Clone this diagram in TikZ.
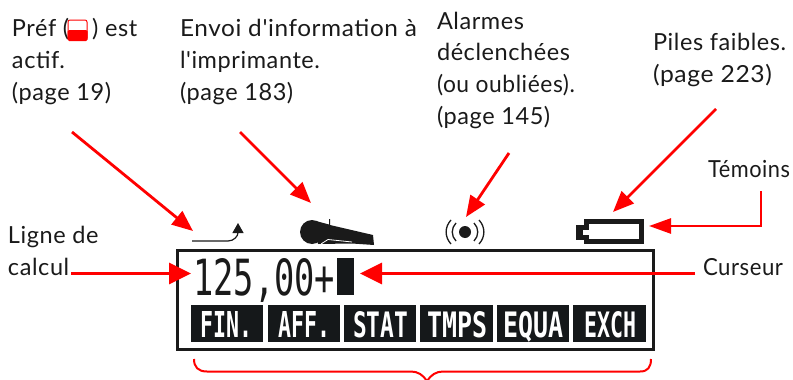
\documentclass[tikz,border=0pt]{standalone}
\usepackage{fontspec}
\usepackage{graphicx}
\newfontfamily\labelfont{Lato}[LetterSpace=2.5]
\newfontfamily\lcdfont{DejaVu Sans Mono}
\usetikzlibrary{arrows.meta}
\definecolor{ink}{HTML}{1A1A1A}
\definecolor{lcd}{HTML}{15181A}
\definecolor{rd}{HTML}{FF0000}
\tikzset{
  lbl/.style={anchor=base west,inner sep=0pt,outer sep=0pt,align=left,text=ink,font=\labelfont\fontsize{23.5}{31.6}\selectfont},
  callout/.style={draw=rd,line width=2.8pt,-{Triangle[length=21pt,width=17pt]}},
  calloutflat/.style={draw=rd,line width=3pt,-{Triangle[length=22pt,width=21pt]}},
  calloutsmall/.style={draw=rd,line width=2.6pt,-{Triangle[length=22pt,width=15pt]}},
  softkey/.style={fill=lcd,draw=none,inner sep=0pt,outer sep=0pt,anchor=north west},
  keytext/.style={text=white,inner sep=0pt,anchor=base west,font=\lcdfont\bfseries},
  lcdtext/.style={text=ink,inner sep=0pt,anchor=base west,font=\lcdfont},
}
\newcommand{\softkeybox}[7]{%
  \node[softkey,minimum width=#3pt,minimum height=37pt] (#1) at (#2,305) {};
  \node[keytext] (#1t) at (#4,337) {\resizebox{#5pt}{#6pt}{#7}};
}
\begin{document}
\begin{tikzpicture}[x=1pt,y=-1pt]
\useasboundingbox (0,0) rectangle (793,380);
% labels
\node[lbl] (pref) at (12,100) {Préf (\hspace{23pt}) est\\actif.\\(page 19)};
\node[lbl] (envoi) at (180,100) {\resizebox{237pt}{\height}{Envoi d'information à}\\l'imprimante.\\(page 183)};
\node[lbl] (alarm) at (437,124) {Alarmes\\déclenchées\\\resizebox{138pt}{\height}{(ou oubliées).}\\(page 145)};
\node[lbl] (piles) at (653,82) {Piles faibles.\\\resizebox{119pt}{\height}{(page 223)}};
\node[lbl] (temoins) at (708,177) {\resizebox{82pt}{\height}{Témoins}};
\node[lbl] (ligne) at (8,275) {Ligne de\\calcul};
\node[lbl] (curseur) at (703,275) {\resizebox{80pt}{\height}{Curseur}};
% pref icon
\draw[rd,line width=1pt,rounded corners=2pt,fill=white] (68,20) rectangle (87,40);
\fill[rd,rounded corners=1.5pt] (67.5,30) rectangle (87.5,41);
% display
\node[draw=ink,line width=2.2pt,fill=white,inner sep=0pt,outer sep=0pt,minimum width=476pt,minimum height=99pt,anchor=north west] (display) at (177.5,250.5) {};
\node[lcdtext] (entry) at (193,295) {\resizebox{142pt}{37pt}{125,00+}};
\node[fill=lcd,inner sep=0pt,outer sep=0pt,minimum width=17pt,minimum height=37pt,anchor=north west] (cursor) at (337,258) {};
\softkeybox{fin}{191}{72}{200}{52}{26}{FIN.}
\softkeybox{aff}{268}{72}{278}{52}{26}{AFF.}
\softkeybox{stat}{344}{72}{353}{55}{26}{STAT}
\softkeybox{tmps}{420}{73}{427}{60}{26}{TMPS}
\softkeybox{equa}{497}{72}{503}{60}{26}{EQUA}
\softkeybox{exch}{573}{73}{584}{52}{26}{EXCH}
% annunciators
\coordinate (shiftstart) at (192,241);
\draw[ink,line width=1.2pt,-{Triangle[length=10pt,width=11pt]}] (shiftstart) -- (228,241) .. controls (234,241) and (238,236) .. (238,223);
\fill[ink] (312,232) circle (12);
\fill[ink] (316,221) -- (329,224.5) -- (329,219) -- (330,219) -- (330,225) -- (373,235) -- (374,245) -- (352,243.5) -- (318,244) -- cycle;
\draw[white,line width=.8pt] (321,244) -- (328,239.5) -- (352,242);
\fill[ink] (465,232) circle (6);
\draw[ink,line width=1.3pt] (456,223) .. controls (451,228) and (451,236) .. (456,241);
\draw[ink,line width=1.3pt] (451,220) .. controls (444.5,227) and (444.5,237) .. (451,244);
\draw[ink,line width=1.3pt] (474,223) .. controls (479,228) and (479,236) .. (474,241);
\draw[ink,line width=1.3pt] (479,220) .. controls (485.5,227) and (485.5,237) .. (479,244);
\fill[ink] (576,225) rectangle (585,239.5);
\node[draw=ink,line width=5pt,fill=white,inner sep=0pt,outer sep=0pt,minimum width=55pt,minimum height=20pt,anchor=north west] (battery) at (586.5,221.5) {};
\fill[white] (582.5,230) rectangle (590,235);
% callouts
\coordinate (a1s) at (72,132); \coordinate (a1e) at (193,231);
\coordinate (a2s) at (240,132); \coordinate (a2e) at (311,203);
\coordinate (a3s) at (509,153); \coordinate (a3e) at (466,217);
\coordinate (a4s) at (716,109); \coordinate (a4e) at (613,212);
\coordinate (a5s) at (761,191); \coordinate (a5c) at (761,226); \coordinate (a5e) at (649,226);
\coordinate (a6s) at (71,273.5); \coordinate (a6e) at (191,273.5);
\coordinate (a7s) at (695,273.5); \coordinate (a7e) at (360,273.5);
\draw[callout] (a1s) -- (a1e);
\draw[callout] (a2s) -- (a2e);
\draw[callout] (a3s) -- (a3e);
\draw[callout] (a4s) -- (a4e);
\draw[calloutsmall] (a5s) -- (a5c) -- (a5e);
\draw[calloutflat] (a6s) -- (a6e);
\draw[calloutflat] (a7s) -- (a7e);
% brace
\draw[rd,line width=2pt] (194,359) .. controls (194,367) and (198,371.5) .. (207,371.5) -- (411,371.5) .. controls (418,371.5) and (423,375) .. (427,381) .. controls (431,375) and (436,371.5) .. (443,371.5) -- (640,371.5) .. controls (648,371.5) and (651,367) .. (651,359);
\end{tikzpicture}
\end{document}
